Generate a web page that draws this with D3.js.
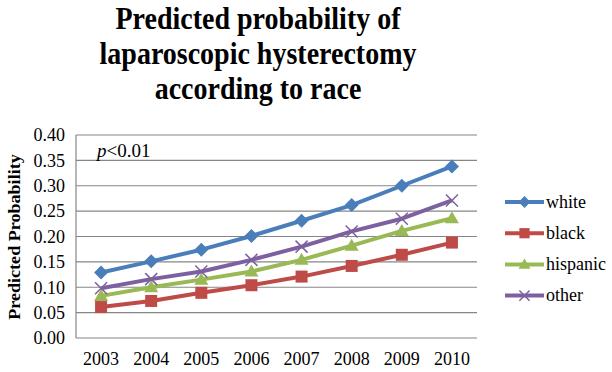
<!DOCTYPE html>
<html><head><meta charset="utf-8">
<script src="https://cdn.jsdelivr.net/npm/d3@7"></script>
<style>body{margin:0;background:#fff}svg{display:block}text{font-family:"Liberation Serif","Times New Roman",serif}</style>
</head><body>
<script>
const years = ["2003","2004","2005","2006","2007","2008","2009","2010"];
const white = [0.129,0.151,0.174,0.201,0.231,0.262,0.300,0.338];
const black = [0.061,0.073,0.089,0.104,0.121,0.142,0.164,0.188];
const hispanic = [0.083,0.100,0.115,0.131,0.154,0.182,0.211,0.236];
const other = [0.098,0.116,0.131,0.154,0.180,0.210,0.235,0.271];
const yTicks = [0,0.05,0.10,0.15,0.20,0.25,0.30,0.35,0.40];
const seriesNames = ["white","black","hispanic","other"];
const seriesColors = ["#4A7EBB","#BE4B48","#98B954","#7D60A0"];
const seriesShapes = ["diamond","square","triangle","x"];
const titleLines = ["Predicted probability of","laparoscopic hysterectomy","according to race"];

const W=612,H=372;
const svg=d3.select("body").append("svg").attr("width",W).attr("height",H);
const m={l:76,r:477,t:135,b:338};
const x=d3.scaleBand().domain(years).range([m.l,m.r]);
const y=d3.scaleLinear().domain([0,0.4]).range([m.b,m.t]);

// title
titleLines.forEach((t,i)=>{
  svg.append("text").attr("transform",`translate(258,${28.5+i*35}) scale(1,1.13)`).attr("text-anchor","middle")
    .attr("font-weight","bold").attr("font-size",28).text(t);
});

// grid
svg.append("g").selectAll("line").data(yTicks).join("line")
  .attr("x1",m.l).attr("x2",m.r).attr("y1",d=>y(d)).attr("y2",d=>y(d))
  .attr("stroke","#868686").attr("stroke-width",1.2);
svg.append("line").attr("x1",m.l).attr("x2",m.l).attr("y1",m.t).attr("y2",m.b)
  .attr("stroke","#868686").attr("stroke-width",1.2);

// axes labels
const ya=svg.append("g").attr("transform",`translate(${m.l},0)`)
  .call(d3.axisLeft(y).tickValues(yTicks).tickFormat(d3.format(".2f")).tickSize(0).tickPadding(11));
ya.select(".domain").remove();
ya.selectAll("text").attr("font-family",null).attr("font-size",18).attr("fill","#000");

const xa=svg.append("g").attr("transform",`translate(0,${m.b})`)
  .call(d3.axisBottom(x).tickSize(0).tickPadding(14));
xa.select(".domain").remove();
xa.selectAll("text").attr("font-family",null).attr("font-size",18).attr("fill","#000");

// y title
svg.append("text").attr("transform","translate(20,237) rotate(-90) scale(1.13,1)").attr("text-anchor","middle")
  .attr("font-weight","bold").attr("font-size",16).text("Predicted Probability");

// p value
const pt=svg.append("text").attr("x",97).attr("y",157).attr("font-size",19);
pt.append("tspan").attr("font-style","italic").text("p");
pt.append("tspan").text("<0.01");

function marker(g,shape,color,cx,cy,s){
  if(shape==="diamond"){
    g.append("path").attr("d",`M${cx},${cy-7*s}L${cx+7*s},${cy}L${cx},${cy+7*s}L${cx-7*s},${cy}Z`).attr("fill",color);
  }else if(shape==="square"){
    g.append("rect").attr("x",cx-6*s).attr("y",cy-6*s).attr("width",12*s).attr("height",12*s).attr("fill",color);
  }else if(shape==="triangle"){
    g.append("path").attr("d",`M${cx},${cy-7*s}L${cx+7*s},${cy+5*s}L${cx-7*s},${cy+5*s}Z`).attr("fill",color);
  }else{
    g.append("path").attr("d",`M${cx-6*s},${cy-6*s}L${cx+6*s},${cy+6*s}M${cx+6*s},${cy-6*s}L${cx-6*s},${cy+6*s}`)
      .attr("stroke",color).attr("stroke-width",1.5).attr("fill","none");
  }
}

const data=[white,black,hispanic,other];
const line=d3.line().x((d,i)=>x(years[i])+x.bandwidth()/2).y(d=>y(d));
data.forEach((vals,k)=>{
  const g=svg.append("g");
  g.append("path").datum(vals).attr("d",line).attr("fill","none")
    .attr("stroke",seriesColors[k]).attr("stroke-width",4).attr("stroke-linejoin","round");
  vals.forEach((v,i)=>marker(g,seriesShapes[k],seriesColors[k],x(years[i])+x.bandwidth()/2,y(v),1));
});

// legend
seriesNames.forEach((n,k)=>{
  const ly=202+k*31.2;
  const g=svg.append("g");
  g.append("line").attr("x1",505).attr("x2",544).attr("y1",ly).attr("y2",ly)
    .attr("stroke",seriesColors[k]).attr("stroke-width",4);
  marker(g,seriesShapes[k],seriesColors[k],524.5,ly,0.85);
  g.append("text").attr("x",546).attr("y",ly+5.5).attr("font-size",18).text(n);
});
</script>
</body></html>
